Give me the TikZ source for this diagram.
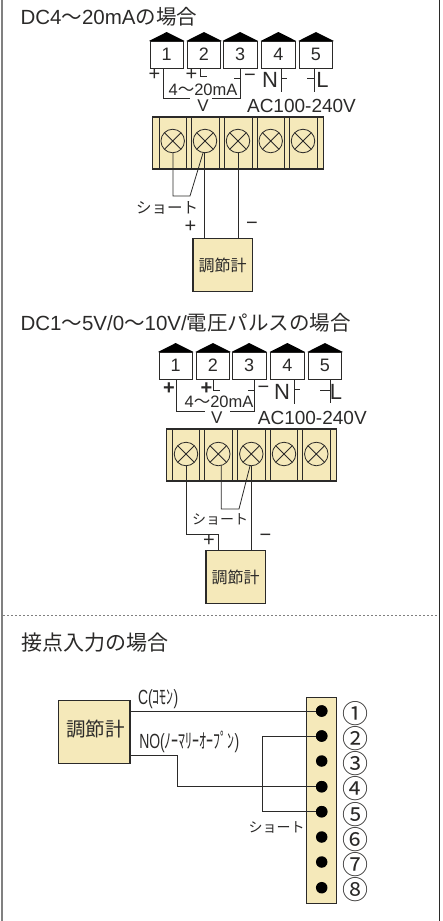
\documentclass[tikz,border=0pt]{standalone}
\usepackage{fontspec}
\setmainfont{Liberation Sans}
\newfontfamily\cjk{Noto Sans CJK JP}
\usetikzlibrary{calc}
\definecolor{ink}{HTML}{2B2A29}
\definecolor{cream}{HTML}{F5E9BA}
\definecolor{frameg}{HTML}{808080}
\newcommand{\fs}[1]{\fontsize{#1}{#1}\selectfont}
\tikzset{
  txt/.style={inner sep=0pt,outer sep=0pt,text=ink},
  wire/.style={draw=ink,line width=0.8pt},
  termbox/.style={draw=ink,line width=0.9pt,fill=white,minimum width=33.5pt,minimum height=27pt,inner sep=0pt,text=ink,font=\fs{18}},
  ctrl/.style={draw=ink,line width=1.1pt,fill=cream,inner sep=0pt,text=ink},
  screw/.style={circle,draw=ink,line width=0.8pt,fill=cream,minimum size=23.5pt,inner sep=0pt,
    path picture={\draw[ink,line width=0.8pt] (path picture bounding box.north west)--(path picture bounding box.south east)
      (path picture bounding box.north east)--(path picture bounding box.south west);}},
  dotn/.style={circle,fill=black,minimum size=11.5pt,inner sep=0pt},
}
% prefix, dx, dy
\newcommand{\termboxes}[3]{%
  \foreach \i/\x in {1/150,2/187.3,3/223.5,4/261.7,5/299.3}{%
    \node[termbox] (#1b\i) at (\x+16.7+#2,54.5+#3) {\i};
    \fill[black] (\x-1+#2,41+#3) -- (\x+16.7+#2,32+#3) -- (\x+34.5+#2,41+#3) -- cycle;
  }}
% prefix, dx, dy  (dx = terminal-block offset)
\newcommand{\termblock}[3]{%
  \node[draw=ink,line width=1.1pt,fill=cream,minimum width=170.5pt,minimum height=52pt,inner sep=0pt] (#1blk) at (238+#2,143+#3) {};
  \foreach \x in {159,186,191,219,224,252,257,284,289,317}{\draw[ink,line width=1pt] (\x+#2,117+#3)--(\x+#2,169+#3);}
}
\newcommand{\screws}[3]{%
  \foreach \i/\x in {1/172.7,2/205,3/238,4/270.7,5/303}{\node[screw] (#1s\i) at (\x+#2,141+#3) {};}
}
\begin{document}
\begin{tikzpicture}[x=1pt,y=-1pt]
\useasboundingbox (0,0) rectangle (443,921);
% frame
\draw[frameg,line width=2pt] (2,0)--(2,921);
\draw[ink,line width=0.7pt] (439.5,0)--(439.5,921);
\coordinate (dl) at (3,615.5); \coordinate (dr) at (438,615.5);
\draw[frameg,line width=1pt,dash pattern=on 2.2pt off 1.8pt] (dl)--(dr);

%%%%%% Section 1
\node[txt,anchor=west] (t1) at (20.5,17) {\fs{20.5}DC4{\cjk～}20mA{\cjk の場合}};
\termboxes{a}{0}{0}
\coordinate (a1a) at (163,68); \coordinate (a1b) at (163,98.7); \coordinate (a1c) at (190,98.7);
\draw[wire] (a1a)--(a1b)--(a1c);
\coordinate (a3a) at (240.5,68); \coordinate (a3b) at (240.5,98.7); \coordinate (a3c) at (212,98.7);
\draw[wire] (a3a)--(a3b)--(a3c);
\coordinate (a3t) at (234,78); \draw[wire] (a3t)--(a3t-|a3a);
\coordinate (a2a) at (200,68); \coordinate (a2b) at (200,76); \coordinate (a2c) at (207,76);
\draw[wire] (a2a)--(a2b)--(a2c);
\coordinate (a4a) at (281,68); \coordinate (a4b) at (281,92); \coordinate (a4t) at (287,78);
\draw[wire] (a4a)--(a4b) (a4a|-a4t)--(a4t);
\coordinate (a5a) at (314,68); \coordinate (a5b) at (314,92); \coordinate (a5t) at (307,78);
\draw[wire] (a5a)--(a5b) (a5a|-a5t)--(a5t);
\node[txt] (ap1) at (154.5,75) {\fs{20}+};
\node[txt] (ap2) at (191.5,75) {\fs{20}+};
\node[txt] (am) at (250,78) {\fs{20}−};
\node[txt] (aN) at (270,80) {\fs{22}N};
\node[txt] (aL) at (322.5,80) {\fs{22}L};
\node[txt] (aI) at (203,89.5) {\fs{16.5}4{\cjk～}20mA};
\node[txt] (aV) at (203,106) {\fs{17}V};
\node[txt] (aAC) at (301.5,105.5) {\fs{19}AC100-240V};
\termblock{a}{0}{0}
\node[ctrl,minimum width=59.5pt,minimum height=53pt] (actl) at (222.7,265) {\cjk\fs{16}調節計};
\coordinate (as1) at (173,141); \coordinate (asa) at (173,196); \coordinate (asb) at (190,196); \coordinate (as2) at (205,141);
\draw[wire] (as1)--(asa)--(asb)--(203,153);
\coordinate (aw2) at (204.5,141); \coordinate (aw3) at (238,141);
\draw[wire] (aw2)--(aw2|-actl.north);
\draw[wire] (aw3)--(aw3|-actl.north);
\screws{a}{0}{0}
\node[txt] (ash) at (167,208) {\cjk\fs{15.5}ショート};
\node[txt] (acp) at (190.5,227) {\fs{20}+};
\node[txt] (acm) at (252,226) {\fs{20}−};

%%%%%% Section 2
\node[txt,anchor=west] (t2) at (20.5,323) {\fs{20.5}DC1{\cjk～}5V/0{\cjk～}10V/{\cjk 電圧パルスの場合}};
\termboxes{b}{9}{311}
\coordinate (b1a) at (176.3,379); \coordinate (b1b) at (176.3,411); \coordinate (b1c) at (205,411);
\draw[wire] (b1a)--(b1b)--(b1c);
\coordinate (b3a) at (254,379); \coordinate (b3b) at (254,411); \coordinate (b3c) at (230,411);
\draw[wire] (b3a)--(b3b)--(b3c);
\coordinate (b3t) at (248,390); \draw[wire] (b3t)--(b3t-|b3a);
\coordinate (b2a) at (213.3,379); \coordinate (b2b) at (213.3,390); \coordinate (b2c) at (220,390);
\draw[wire] (b2a)--(b2b)--(b2c);
\coordinate (b4a) at (294,379); \coordinate (b4b) at (294,404); \coordinate (b4t) at (300,389.5);
\draw[wire] (b4a)--(b4b) (b4a|-b4t)--(b4t);
\coordinate (b5a) at (330,379); \coordinate (b5b) at (330,403); \coordinate (b5t) at (320,390);
\draw[wire] (b5a)--(b5b) (b5a|-b5t)--(b5t);
\node[txt] (bp1) at (169,389) {\fs{20}\bfseries +};
\node[txt] (bp2) at (206.5,389) {\fs{20}\bfseries +};
\node[txt] (bm) at (263.5,390) {\fs{20}−};
\node[txt] (bN) at (282,392) {\fs{22}N};
\node[txt] (bL) at (336,392) {\fs{22}L};
\node[txt] (bI) at (219,401.5) {\fs{16.5}4{\cjk～}20mA};
\node[txt] (bV) at (216.7,418) {\fs{17}V};
\node[txt] (bAC) at (312.3,417.5) {\fs{19}AC100-240V};
\termblock{b}{13.3}{312}
\node[ctrl,minimum width=59.5pt,minimum height=52.5pt] (bctl) at (235.7,577) {\cjk\fs{16}調節計};
\coordinate (bs1) at (186,454); \coordinate (bsa) at (186,534); \coordinate (bsb) at (218.5,534);
\draw[wire] (bs1)--(bsa)--(bsb)--(bsb|-bctl.north);
\coordinate (bs2) at (221.3,454); \coordinate (bsc) at (221.3,509); \coordinate (bsd) at (239,509);
\draw[wire] (bs2)--(bsc)--(bsd)--(250,466);
\coordinate (bs3) at (251.5,454);
\draw[wire] (bs3)--(bs3|-bctl.north);
\screws{b}{13.3}{313}
\node[txt] (bsh) at (220,519) {\cjk\fs{14}ショート};
\node[txt] (bcp) at (209,541) {\fs{20}+};
\node[txt] (bcm) at (265.5,538) {\fs{20}−};

%%%%%% Section 3
\node[txt,anchor=west] (t3) at (21,643) {\cjk\fs{21}接点入力の場合};
\node[ctrl,minimum width=71.5pt,minimum height=63.5pt] (cctl) at (94.2,731.8) {};
\node[txt] (cctlt) at (95.7,729) {\cjk\fs{19.5}調節計};
\node[ctrl,minimum width=30pt,minimum height=206.5pt] (strip) at (321.7,800.5) {};
\foreach \i/\y in {1/711,2/736,3/761,4/786.7,5/811.7,6/837,7/862,8/887.7}{\node[dotn] (d\i) at (321.7,\y) {};}
\foreach \i/\y/\c in {1/713.3/①,2/739/②,3/763.7/③,4/789/④,5/814.7/⑤,6/840/⑥,7/865/⑦,8/889.3/⑧}{\node[txt] (n\i) at (355.7,\y) {\cjk\fs{26}\c};}
\draw[wire,line width=1pt] (cctl.east|-d1)--(d1);
\coordinate (no1) at (130,755); \coordinate (no2) at (177.3,755);
\draw[wire,line width=1pt] (no1)--(no2)--(no2|-d4)--(d4);
\coordinate (sh) at (262.7,736);
\draw[wire,line width=1pt] (d2)--(sh)--(sh|-d5)--(d5);
\node[dotn] at (d1) {}; \node[dotn] at (d2) {}; \node[dotn] at (d4) {}; \node[dotn] at (d5) {};
\node[txt,anchor=west] (cC) at (138,699) {\scalebox{0.68}[1]{\fs{20.5}C(\cjk ｺﾓﾝ\rmfamily)}};
\node[txt,anchor=west] (cNO) at (139.3,742) {\scalebox{0.68}[1]{\fs{20.5}NO(\cjk ﾉｰﾏﾘｰｵｰﾌﾟﾝ\rmfamily)}};
\node[txt] (csh) at (276.7,827.7) {\cjk\fs{14}ショート};
\end{tikzpicture}
\end{document}
